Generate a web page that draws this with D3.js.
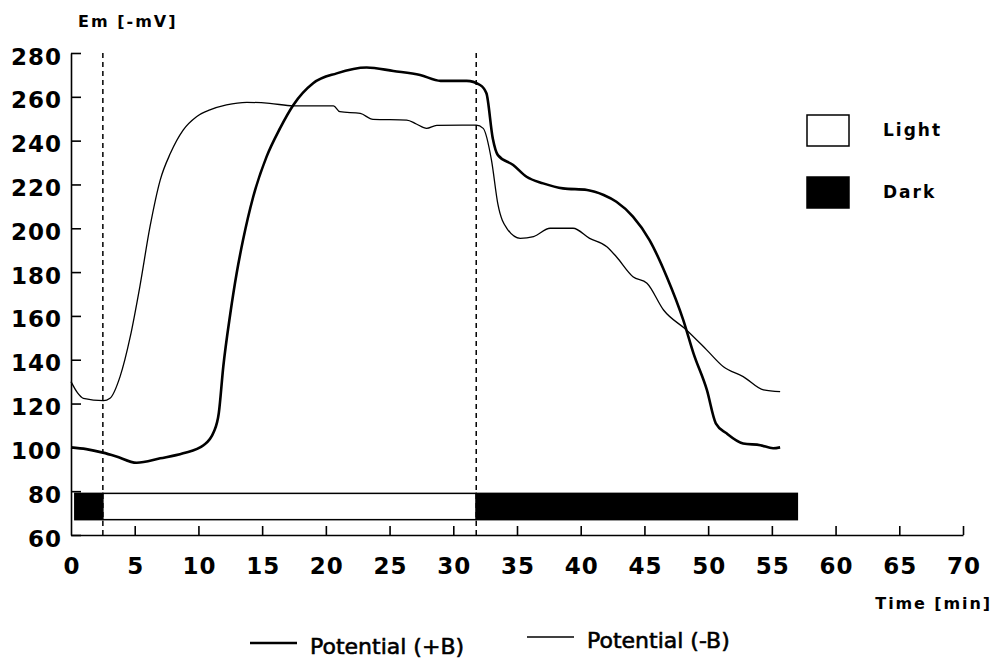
<!DOCTYPE html>
<html>
<head>
<meta charset="utf-8">
<script src="https://cdn.jsdelivr.net/npm/d3@7"></script>
<style>
  body { margin: 0; background: #fff; }
</style>
</head>
<body>
<div id="vis"></div>
<script>
// membrane potential, series
const timePlusB = [0, 1.2, 2.5, 3.5, 5.15, 7, 8.8, 10.4, 11.2, 11.6, 11.95, 12.5, 13.0, 13.5, 14.3, 15.35, 16.4, 17.45, 19.0, 20.85, 23.2, 25.3, 27.4, 29, 31.05, 32.1, 32.6, 33.1, 33.5, 34.7, 35.75, 37.05, 38.6, 40.5, 41.8, 42.8, 44.1, 45.4, 46.75, 48.05, 48.85, 49.9, 50.6, 51.45, 52.75, 54.1, 55.1, 55.65];
const potPlusB  = [100, 99.2, 97.6, 96, 93, 95, 97.3, 101, 107, 115.7, 136.8, 161, 179.5, 194.6, 214.4, 232.7, 245.6, 256.3, 266.2, 270.7, 273.4, 271.8, 270, 267.3, 267.3, 265.4, 261.6, 241, 233.4, 228.9, 223.5, 220.5, 218.2, 217.5, 215.2, 212.1, 205.3, 194.6, 177.9, 158.1, 142.9, 126.2, 111, 106.4, 101.8, 101, 99.6, 100];

const timeMinusB = [0, 0.5, 0.97, 2.55, 3.06, 3.85, 4.65, 5.4, 6.2, 7.0, 7.8, 8.8, 9.85, 10.9, 12.2, 13.8, 15.6, 17.45, 20.6, 21.1, 22.7, 23.7, 26.35, 27.1, 27.9, 28.7, 31.8, 32.35, 33.0, 33.5, 34.2, 35.25, 36.3, 37.6, 39.4, 40.7, 42.05, 42.8, 44.1, 45.2, 46.5, 48.3, 49.9, 51.2, 52.75, 54.35, 55.65];
const potMinusB  = [130, 125, 122.4, 121.3, 122.4, 132.3, 150.5, 173.3, 200.7, 222, 234.2, 244.8, 250.9, 254, 256.3, 257.5, 257, 255.9, 255.9, 253.2, 252.4, 249.7, 249.4, 247.6, 245.6, 247, 247.1, 245.6, 231, 211, 200, 195.4, 196.2, 200, 200, 195.4, 191.6, 187, 177.9, 174.9, 162.7, 153.6, 144.4, 136.8, 132.3, 126.2, 125.4];

// light / dark phases (min)
const phaseStart = [0.3, 2.5, 31.8];
const phaseEnd   = [2.5, 31.8, 57];
const phaseKind  = ["Dark", "Light", "Dark"];
const switchTimes = [2.5, 31.8];

const xTicks = d3.range(0, 71, 5);
const yTicks = d3.range(60, 281, 20);
const seriesNames = ["Potential (+B)", "Potential (-B)"];
const legendKinds = ["Light", "Dark"];

const font = `"DejaVu Sans", Verdana, sans-serif`;

const svg = d3.select("#vis").append("svg")
    .attr("width", 996).attr("height", 659)
    .style("background", "#fff");

const x = d3.scaleLinear().domain([0, 70]).range([71, 963]);
const y = d3.scaleLinear().domain([60, 280]).range([535, 53]);

// light/dark bar
svg.append("g").selectAll("rect")
    .data(phaseKind)
    .join("rect")
    .attr("x", (d, i) => x(phaseStart[i]))
    .attr("width", (d, i) => x(phaseEnd[i]) - x(phaseStart[i]))
    .attr("y", y(79))
    .attr("height", y(67) - y(79))
    .attr("fill", d => d === "Dark" ? "#000" : "#fff")
    .attr("stroke", "#000")
    .attr("stroke-width", 1.5);

// dashed switch lines
svg.append("g").selectAll("line")
    .data(switchTimes)
    .join("line")
    .attr("x1", d => x(d)).attr("x2", d => x(d))
    .attr("y1", y(280)).attr("y2", y(60))
    .attr("stroke", "#000")
    .attr("stroke-width", 1.5)
    .attr("stroke-dasharray", "5,4");

// axes
const xAxis = svg.append("g")
    .attr("transform", `translate(0,${y(60)})`)
    .call(d3.axisBottom(x).tickValues(xTicks).tickSizeInner(-9).tickSizeOuter(0).tickPadding(0));
const yAxis = svg.append("g")
    .attr("transform", `translate(${x(0)},0)`)
    .call(d3.axisLeft(y).tickValues(yTicks).tickSizeInner(-10).tickSizeOuter(0).tickPadding(9));

[xAxis, yAxis].forEach(g => {
    g.select(".domain").attr("stroke", "#000").attr("stroke-width", 1.6);
    g.selectAll(".tick line").attr("stroke", "#000").attr("stroke-width", 1.6);
    g.selectAll(".tick text")
        .attr("fill", "#000")
        .style("font-family", font)
        .style("font-weight", "bold")
        .style("font-size", "23px")
        .style("letter-spacing", "1px");
});
xAxis.selectAll(".tick text").attr("y", 39).attr("dy", 0).attr("dx", "0.5px");
xAxis.selectAll(".tick").filter(d => d === 0).select("line").remove();
yAxis.selectAll(".tick text").attr("dy", 11);

// axis titles
svg.append("text")
    .attr("x", 78).attr("y", 27)
    .style("font-family", font).style("font-weight", "bold")
    .style("font-size", "16px").style("letter-spacing", "2px")
    .text("Em [-mV]");
svg.append("text")
    .attr("x", 992).attr("y", 609)
    .attr("text-anchor", "end")
    .style("font-family", font).style("font-weight", "bold")
    .style("font-size", "16px").style("letter-spacing", "1.9px")
    .text("Time [min]");

// curves
const line = d3.line()
    .x(d => x(d[0]))
    .y(d => y(d[1]))
    .curve(d3.curveMonotoneX);

const plusB = timePlusB.map((t, i) => [t, potPlusB[i]]);
const minusB = timeMinusB.map((t, i) => [t, potMinusB[i]]);

svg.append("path")
    .datum(minusB)
    .attr("d", line)
    .attr("fill", "none")
    .attr("stroke", "#000")
    .attr("stroke-width", 1.3);
svg.append("path")
    .datum(plusB)
    .attr("d", line)
    .attr("fill", "none")
    .attr("stroke", "#000")
    .attr("stroke-width", 2.6);

// light / dark legend
const lg = svg.append("g").selectAll("g")
    .data(legendKinds)
    .join("g")
    .attr("transform", (d, i) => `translate(807,${115 + i * 62})`);
lg.append("rect")
    .attr("width", 42).attr("height", 31)
    .attr("fill", d => d === "Dark" ? "#000" : "#fff")
    .attr("stroke", "#000").attr("stroke-width", 1.5);
lg.append("text")
    .attr("x", 76).attr("y", 21)
    .style("font-family", font).style("font-weight", "bold")
    .style("font-size", "17px").style("letter-spacing", "2px")
    .text(d => d);

// series legend
const sl = svg.append("g").selectAll("g")
    .data(seriesNames)
    .join("g")
    .attr("transform", (d, i) => i === 0 ? "translate(250,643)" : "translate(527,637)");
sl.append("line")
    .attr("x1", 0).attr("x2", 47)
    .attr("stroke", "#000")
    .attr("stroke-width", (d, i) => i === 0 ? 2.6 : 1.3);
sl.append("text")
    .attr("x", 60).attr("y", 11)
    .style("font-family", font)
    .style("font-size", "22px")
    .attr("stroke", "#000").attr("stroke-width", 0.6)
    .text(d => d);
</script>
</body>
</html>
